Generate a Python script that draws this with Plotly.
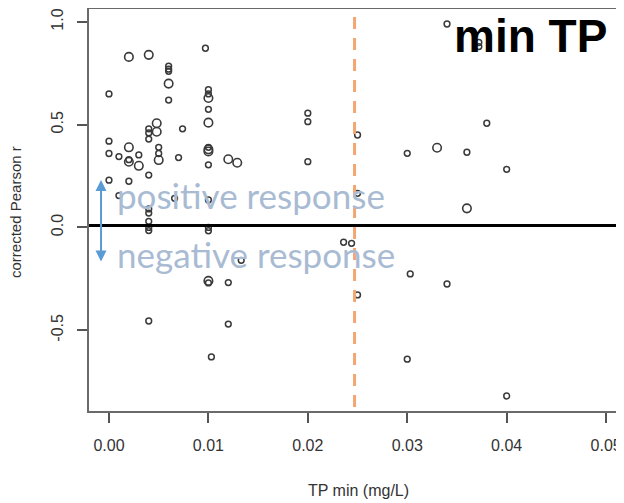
import plotly.graph_objects as go

# small-circle observations
tp_small = [0.0, 0.0, 0.0, 0.0,
            0.001, 0.001,
            0.002, 0.002,
            0.003,
            0.004, 0.004, 0.004, 0.004, 0.004, 0.004, 0.004, 0.004, 0.004, 0.004,
            0.005, 0.005,
            0.006, 0.006, 0.006, 0.006,
            0.0066, 0.007, 0.0074, 0.0097,
            0.010, 0.010, 0.010, 0.010, 0.010, 0.010, 0.010, 0.010, 0.010,
            0.0103, 0.012, 0.012, 0.0133,
            0.020, 0.020, 0.020,
            0.0236, 0.0244,
            0.025, 0.025, 0.025,
            0.030, 0.030, 0.0303,
            0.034, 0.034, 0.036, 0.0372, 0.0372, 0.038, 0.040, 0.040]
r_small = [0.65, 0.42, 0.36, 0.23,
           0.345, 0.155,
           0.33, 0.225,
           0.353,
           0.48, 0.46, 0.43, 0.255, 0.09, 0.07, 0.03, 0.0, -0.015, -0.455,
           0.39, 0.36,
           0.785, 0.77, 0.76, 0.62,
           0.142, 0.34, 0.48, 0.872,
           0.67, 0.65, 0.575, 0.39, 0.305, 0.134, 0.0, -0.016, -0.27,
           -0.63, -0.268, -0.47, -0.16,
           0.556, 0.515, 0.32,
           -0.072, -0.077,
           0.45, 0.166, -0.328,
           0.361, -0.641, -0.226,
           0.99, -0.275, 0.366, 0.90, 0.88, 0.507, 0.283, -0.82]

# larger-circle observations
tp_large = [0.002, 0.002, 0.002, 0.003, 0.004, 0.0048, 0.0048, 0.005, 0.006,
            0.010, 0.010, 0.010, 0.010, 0.010, 0.012, 0.0129, 0.033, 0.036]
r_large = [0.83, 0.39, 0.32, 0.30, 0.84, 0.507, 0.466, 0.328, 0.70,
           0.63, 0.51, 0.38, 0.37, -0.26, 0.332, 0.315, 0.388, 0.093]

x_ticks = [0.0, 0.01, 0.02, 0.03, 0.04, 0.05]
x_tick_labels = ["0.00", "0.01", "0.02", "0.03", "0.04", "0.05"]
y_ticks = [-0.5, 0.0, 0.5, 1.0]
y_tick_labels = ["-0.5", "0.0", "0.5", "1.0"]

threshold_tp = 0.0247
zero_line_r = 0.009

X_RANGE = [-0.00201, 0.0517]
Y_RANGE = [-0.893, 1.063]

fig = go.Figure()
fig.add_trace(go.Scatter(
    x=tp_small, y=r_small, mode="markers",
    marker=dict(symbol="circle-open", size=5.8, color="#3a3a3a",
                line=dict(width=1.5, color="#3a3a3a")),
    hoverinfo="skip", showlegend=False, cliponaxis=False))
fig.add_trace(go.Scatter(
    x=tp_large, y=r_large, mode="markers",
    marker=dict(symbol="circle-open", size=8.5, color="#3a3a3a",
                line=dict(width=1.6, color="#3a3a3a")),
    hoverinfo="skip", showlegend=False, cliponaxis=False))

# threshold dashed line
fig.add_shape(type="line", xref="x", yref="paper", x0=threshold_tp, x1=threshold_tp,
              y0=0.01, y1=0.99, line=dict(color="#f4a672", width=3, dash="12px,9px"))
# zero line
fig.add_shape(type="line", xref="paper", yref="y", x0=0, x1=0.996,
              y0=zero_line_r, y1=zero_line_r, line=dict(color="black", width=3))

axis_font = dict(family="Liberation Sans", size=16, color="#333333")

# page body has an 8px margin; compensate so the plot sits where the reference's does
fig.update_layout(
    width=624, height=503,
    margin=dict(l=81, r=9, t=1, b=100),
    paper_bgcolor="white", plot_bgcolor="white",
    xaxis=dict(range=X_RANGE, tickvals=x_ticks, ticktext=x_tick_labels,
               showgrid=False, zeroline=False, automargin=False,
               showline=True, mirror=True, linecolor="#6a6a6a", linewidth=1.5,
               ticks="outside", ticklen=10, tickwidth=1.5, tickcolor="#555555",
               tickfont=axis_font, ticklabelstandoff=9),
    yaxis=dict(range=Y_RANGE, tickvals=y_ticks, ticktext=y_tick_labels,
               showgrid=False, zeroline=False, automargin=False,
               showline=True, mirror=True, linecolor="#6a6a6a", linewidth=1.5,
               ticks="outside", ticklen=10, tickwidth=1.5, tickcolor="#555555",
               tickfont=axis_font, tickangle=-90, ticklabelstandoff=8),
)

annots = [
    dict(text="corrected Pearson r", xref="paper", yref="paper",
         x=(15 - 89) / 534, y=(411 - 212) / 402, textangle=-90,
         font=dict(family="Liberation Sans", size=15, color="#333333")),
    dict(text="TP min (mg/L)", xref="paper", yref="paper",
         x=(358 - 89) / 534, y=(411 - 490) / 402,
         font=dict(family="Liberation Sans", size=16, color="#333333")),
    dict(text="<b>min TP</b>", xref="paper", yref="paper",
         x=(530 - 89) / 534, y=(411 - 36) / 402,
         font=dict(family="Liberation Sans", size=46, color="black")),
    dict(text="positive response", xref="x", yref="y", x=0.0006, y=0.16,
         xanchor="left", yanchor="middle",
         font=dict(family="Lato", size=35, color="#a9bbd3")),
    dict(text="negative response", xref="x", yref="y", x=0.0006, y=-0.127,
         xanchor="left", yanchor="middle",
         font=dict(family="Lato", size=35, color="#a9bbd3")),
]
for a in annots:
    a.setdefault("showarrow", False)
    a.setdefault("xanchor", "center")
    a.setdefault("yanchor", "middle")
    fig.add_annotation(**a)

# double-headed arrow
fig.add_annotation(x=-0.0008, y=0.231, ax=-0.0008, ay=-0.173, xref="x", yref="y",
                   axref="x", ayref="y", text="", showarrow=True,
                   arrowhead=2, startarrowhead=2, arrowside="end+start",
                   arrowwidth=2, arrowsize=1.1, startarrowsize=1.1, arrowcolor="#5b9bd5")

fig.write_html("out.html")
